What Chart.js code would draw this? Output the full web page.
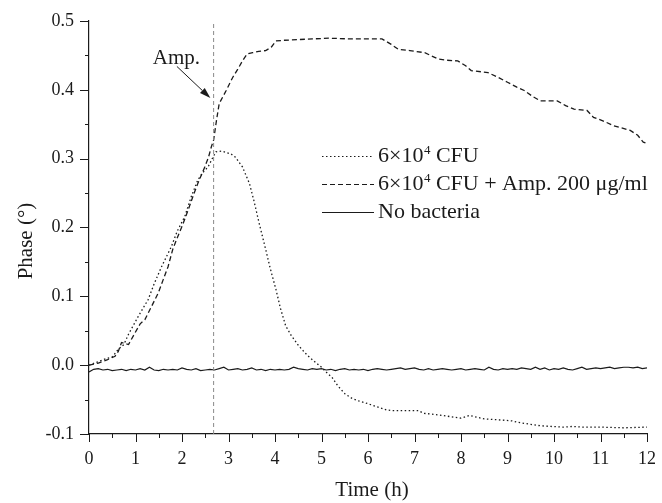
<!DOCTYPE html>
<html>
<head>
<meta charset="utf-8">
<script src="https://cdn.jsdelivr.net/npm/chart.js@4/dist/chart.umd.min.js"></script>
<style>
  html, body { margin: 0; padding: 0; background: #fff; }
  #wrap { width: 662px; height: 503px; position: relative; }
</style>
</head>
<body>
<div id="wrap"><canvas id="phaseChart"></canvas></div>
<script>
// 6x10^4 CFU (dotted)
const cfuTime = [0, 0.35, 0.5, 0.63, 0.75, 0.85, 1.06, 1.27, 1.4, 1.56, 1.77, 1.9, 2.06, 2.2, 2.34, 2.45, 2.56, 2.65, 2.73, 2.85, 3.05, 3.15, 3.3, 3.45, 3.55, 3.66, 3.8, 3.9, 4.02, 4.12, 4.23, 4.35, 4.51, 4.7, 4.87, 5.0, 5.1, 5.23, 5.35, 5.51, 5.65, 5.8, 6.0, 6.22, 6.4, 6.51, 6.8, 7.08, 7.2, 7.35, 7.6, 7.79, 8.0, 8.1, 8.18, 8.3, 8.5, 8.7, 8.93, 9.1, 9.22, 9.5, 9.7, 9.93, 10.2, 10.4, 10.64, 11.0, 11.5, 12.0];
const cfuPhase = [0, 0.009, 0.012, 0.023, 0.03, 0.045, 0.071, 0.095, 0.118, 0.143, 0.172, 0.195, 0.216, 0.245, 0.269, 0.28, 0.288, 0.3, 0.31, 0.311, 0.307, 0.302, 0.288, 0.264, 0.238, 0.206, 0.168, 0.14, 0.11, 0.082, 0.057, 0.043, 0.028, 0.014, 0.004, -0.003, -0.01, -0.018, -0.03, -0.042, -0.048, -0.052, -0.056, -0.061, -0.065, -0.066, -0.066, -0.066, -0.07, -0.071, -0.073, -0.075, -0.077, -0.075, -0.073, -0.075, -0.078, -0.079, -0.080, -0.081, -0.083, -0.086, -0.088, -0.089, -0.09, -0.089, -0.09, -0.09, -0.091, -0.09];

// 6x10^4 CFU + Amp. 200 ug/ml (dashed)
const ampTime = [0, 0.2, 0.4, 0.56, 0.63, 0.7, 0.85, 0.99, 1.1, 1.2, 1.35, 1.49, 1.6, 1.7, 1.8, 1.91, 2.02, 2.13, 2.25, 2.34, 2.49, 2.57, 2.63, 2.68, 2.74, 2.8, 2.95, 3.09, 3.2, 3.3, 3.4, 3.52, 3.65, 3.8, 3.92, 4.02, 4.2, 4.5, 4.8, 5.16, 5.6, 6.0, 6.3, 6.5, 6.65, 6.9, 7.22, 7.5, 7.7, 7.93, 8.1, 8.22, 8.58, 8.8, 9.0, 9.2, 9.36, 9.55, 9.71, 10.07, 10.25, 10.43, 10.71, 10.85, 11.05, 11.28, 11.64, 11.8, 11.92, 12.0];
const ampPhase = [0, 0.003, 0.008, 0.013, 0.02, 0.033, 0.03, 0.047, 0.06, 0.066, 0.086, 0.105, 0.125, 0.143, 0.168, 0.187, 0.205, 0.225, 0.248, 0.264, 0.288, 0.302, 0.317, 0.327, 0.355, 0.38, 0.399, 0.418, 0.43, 0.442, 0.452, 0.454, 0.456, 0.457, 0.462, 0.471, 0.472, 0.473, 0.474, 0.475, 0.474, 0.474, 0.474, 0.466, 0.459, 0.457, 0.454, 0.445, 0.443, 0.442, 0.435, 0.428, 0.425, 0.418, 0.411, 0.404, 0.399, 0.39, 0.384, 0.384, 0.377, 0.372, 0.37, 0.36, 0.355, 0.348, 0.341, 0.334, 0.324, 0.322];

// No bacteria (solid), sampled every 0.1 h from 0 to 12 h
const blankStep = 0.1;
const blankPhase = [
  -0.010, -0.006, -0.005, -0.007, -0.006, -0.008, -0.007, -0.006, -0.008, -0.006,
  -0.007, -0.005, -0.007, -0.003, -0.007, -0.008, -0.006, -0.007, -0.006, -0.007,
  -0.004, -0.006, -0.007, -0.005, -0.008, -0.007, -0.006, -0.007, -0.005, -0.003,
  -0.007, -0.006, -0.005, -0.007, -0.006, -0.004, -0.007, -0.006, -0.008, -0.006,
  -0.007, -0.006, -0.007, -0.006, -0.003, -0.005, -0.006, -0.007, -0.005, -0.006,
  -0.005, -0.007, -0.006, -0.008, -0.006, -0.005, -0.007, -0.006, -0.007, -0.006,
  -0.008, -0.006, -0.005, -0.006, -0.007, -0.006, -0.005, -0.004, -0.006, -0.005,
  -0.004, -0.006, -0.007, -0.005, -0.007, -0.006, -0.005, -0.006, -0.007, -0.006,
  -0.005, -0.007, -0.006, -0.005, -0.006, -0.007, -0.003, -0.006, -0.007, -0.005,
  -0.006, -0.005, -0.006, -0.004, -0.005, -0.006, -0.003, -0.006, -0.004, -0.007,
  -0.005, -0.006, -0.004, -0.006, -0.007, -0.005, -0.003, -0.006, -0.005, -0.004,
  -0.005, -0.004, -0.003, -0.005, -0.004, -0.003, -0.003, -0.004, -0.003, -0.005,
  -0.004
];

// ampicillin addition time and its annotation
const ampAddTime = 2.68;
const arrowFrom = [1.89, 0.434];
const arrowTo = [2.61, 0.388];
const ampLabelAt = [1.88, 0.437];

const xTicks = [0, 1, 2, 3, 4, 5, 6, 7, 8, 9, 10, 11, 12];
const yTicks = [-0.1, 0.0, 0.1, 0.2, 0.3, 0.4, 0.5];

const INK = '#1b1b1b';
const SERIF = '"Liberation Serif", "Times New Roman", serif';

const toPoints = (xs, ys) => xs.map((x, i) => ({ x, y: ys[i] }));
const blankPoints = blankPhase.map((v, i) => ({ x: +(i * blankStep).toFixed(2), y: v }));

const overlay = {
  id: 'overlay',
  afterDraw(chart) {
    const { ctx, chartArea: a, scales: { x, y } } = chart;
    ctx.save();
    ctx.strokeStyle = INK;
    ctx.fillStyle = INK;
    ctx.lineWidth = 1;

    // tick marks, major and minor, pointing out
    ctx.beginPath();
    for (let i = 0; i < xTicks.length; i++) {
      const px = Math.round(x.getPixelForValue(xTicks[i])) + 0.5;
      ctx.moveTo(px, a.bottom); ctx.lineTo(px, a.bottom + 8);
      if (i < xTicks.length - 1) {
        const mx = Math.round(x.getPixelForValue((xTicks[i] + xTicks[i + 1]) / 2)) + 0.5;
        ctx.moveTo(mx, a.bottom); ctx.lineTo(mx, a.bottom + 4);
      }
    }
    for (let i = 0; i < yTicks.length; i++) {
      const py = Math.round(y.getPixelForValue(yTicks[i])) + 0.5;
      ctx.moveTo(a.left, py); ctx.lineTo(a.left - 9, py);
      if (i < yTicks.length - 1) {
        const my = Math.round(y.getPixelForValue((yTicks[i] + yTicks[i + 1]) / 2)) + 0.5;
        ctx.moveTo(a.left, my); ctx.lineTo(a.left - 4, my);
      }
    }
    ctx.stroke();

    // axis titles
    ctx.font = '21px ' + SERIF;
    ctx.textAlign = 'center';
    ctx.textBaseline = 'alphabetic';
    ctx.fillText('Time (h)', 372, 496);
    ctx.save();
    ctx.translate(32, 241);
    ctx.rotate(-Math.PI / 2);
    ctx.fillText('Phase (°)', 0, 0);
    ctx.restore();

    // "Amp." annotation with arrow
    ctx.font = '21px ' + SERIF;
    ctx.fillText('Amp.', x.getPixelForValue(ampLabelAt[0]), y.getPixelForValue(ampLabelAt[1]));
    const x0 = x.getPixelForValue(arrowFrom[0]), y0 = y.getPixelForValue(arrowFrom[1]);
    const x1 = x.getPixelForValue(arrowTo[0]), y1 = y.getPixelForValue(arrowTo[1]);
    const ang = Math.atan2(y1 - y0, x1 - x0);
    const head = 11, half = 3.5;
    const bx = x1 - head * Math.cos(ang), by = y1 - head * Math.sin(ang);
    ctx.beginPath();
    ctx.moveTo(x0, y0); ctx.lineTo(bx, by);
    ctx.stroke();
    ctx.beginPath();
    ctx.moveTo(x1, y1);
    ctx.lineTo(bx + half * Math.sin(ang), by - half * Math.cos(ang));
    ctx.lineTo(bx - half * Math.sin(ang), by + half * Math.cos(ang));
    ctx.closePath();
    ctx.fill();

    // legend
    const rows = [
      { dash: [1.5, 2.5], y: 156, base: 162, parts: ['6×10', '4', ' CFU'] },
      { dash: [5, 3], y: 184, base: 190, parts: ['6×10', '4', ' CFU + Amp. 200 μg/ml'] },
      { dash: [], y: 212, base: 218, parts: ['No bacteria'] },
    ];
    ctx.textAlign = 'left';
    ctx.textBaseline = 'alphabetic';
    rows.forEach(r => {
      ctx.beginPath();
      ctx.setLineDash(r.dash);
      ctx.lineWidth = 1.2;
      ctx.moveTo(322, r.y + 0.5); ctx.lineTo(374, r.y + 0.5);
      ctx.stroke();
      ctx.setLineDash([]);
      let tx = 378;
      ctx.font = '22px ' + SERIF;
      ctx.fillText(r.parts[0], tx, r.base);
      tx += ctx.measureText(r.parts[0]).width;
      if (r.parts.length > 1) {
        ctx.font = '13px ' + SERIF;
        ctx.fillText(r.parts[1], tx + 0.5, r.base - 8);
        tx += ctx.measureText(r.parts[1]).width + 0.5;
        ctx.font = '22px ' + SERIF;
        ctx.fillText(r.parts[2], tx, r.base);
      }
    });
    ctx.restore();
  }
};

new Chart(document.getElementById('phaseChart'), {
  type: 'line',
  data: {
    datasets: [
      {
        label: 'Amp. added',
        data: [{ x: ampAddTime, y: yTicks[0] }, { x: ampAddTime, y: yTicks[yTicks.length - 1] }],
        borderColor: '#8a8a8a',
        borderWidth: 1,
        borderDash: [4, 3],
      },
      {
        label: '6×10⁴ CFU',
        data: toPoints(cfuTime, cfuPhase),
        borderColor: INK,
        borderWidth: 1.3,
        borderDash: [1.5, 2.5],
      },
      {
        label: '6×10⁴ CFU + Amp. 200 μg/ml',
        data: toPoints(ampTime, ampPhase),
        borderColor: INK,
        borderWidth: 1.3,
        borderDash: [5, 3],
      },
      {
        label: 'No bacteria',
        data: blankPoints,
        borderColor: INK,
        borderWidth: 1.2,
      },
    ],
  },
  options: {
    responsive: true,
    maintainAspectRatio: false,
    animation: false,
    events: [],
    elements: { point: { radius: 0 }, line: { tension: 0 } },
    layout: { padding: { top: 21, right: 12, left: 0, bottom: 0 } },
    plugins: { legend: { display: false }, tooltip: { enabled: false } },
    scales: {
      x: {
        type: 'linear',
        min: 0,
        max: 12,
        afterFit: s => { s.height = 69; },
        afterBuildTicks: s => { s.ticks = xTicks.map(v => ({ value: v })); },
        grid: { display: false, drawTicks: true, tickLength: 8 },
        border: { display: true, color: INK, width: 1.2 },
        ticks: {
          color: INK,
          padding: 6,
          maxRotation: 0,
          font: { family: SERIF, size: 18 },
          callback: v => String(v),
        },
      },
      y: {
        type: 'linear',
        min: -0.1,
        max: 0.5,
        afterFit: s => { s.width = 89; },
        afterBuildTicks: s => { s.ticks = yTicks.map(v => ({ value: v })); },
        grid: { display: false, drawTicks: true, tickLength: 8 },
        border: { display: true, color: INK, width: 1.2 },
        ticks: {
          color: INK,
          padding: 7,
          font: { family: SERIF, size: 18 },
          callback: v => v.toFixed(1),
        },
      },
    },
  },
  plugins: [overlay],
});
</script>
</body>
</html>
